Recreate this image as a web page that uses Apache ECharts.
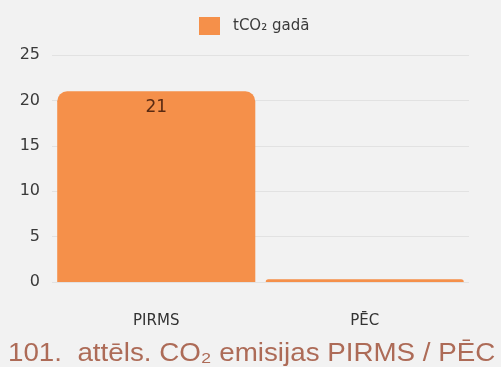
<!DOCTYPE html>
<html><head><meta charset="utf-8">
<script src="https://cdn.jsdelivr.net/npm/echarts@6/dist/echarts.min.js"></script>
<style>html,body{margin:0;padding:0;background:#f2f2f2;}#c{width:501px;height:367px;}</style>
</head><body><div id="c"></div>
<script>
const categories = ['PIRMS', 'PĒC'];
const seriesName = 'tCO\u2082 gadā';
const values = [21, 0.3];
const labelsShown = [true, false];
const yTicks = [0, 5, 10, 15, 20, 25];
const captionText = '101.  attēls. CO\u2082 emisijas PIRMS / PĒC';

const FONT = '"DejaVu Sans", sans-serif';
const chart = echarts.init(document.getElementById('c'));
chart.setOption({
  backgroundColor: '#f2f2f2',
  animation: false,
  legend: {
    top: 12, left: 194, icon: 'rect',
    itemWidth: 21, itemHeight: 18, itemGap: 8,
    textStyle: { fontFamily: FONT, fontSize: 15, color: '#3a3a3a', padding: [0, 0, 0, 8] },
    data: [seriesName]
  },
  grid: { left: 52, right: 32, top: 55, bottom: 85 },
  xAxis: {
    type: 'category', data: categories,
    axisLine: { show: false }, axisTick: { show: false },
    axisLabel: { margin: 32, fontFamily: FONT, fontSize: 15, color: '#333' }
  },
  yAxis: {
    type: 'value', min: yTicks[0], max: yTicks[yTicks.length - 1], interval: 5,
    axisLine: { show: false }, axisTick: { show: false },
    splitLine: { lineStyle: { color: '#e2e2e2', width: 1 } },
    axisLabel: { margin: 12, fontFamily: FONT, fontSize: 16, color: '#3a3a3a' }
  },
  series: [{
    name: seriesName, type: 'bar', barWidth: '95%',
    itemStyle: { color: '#f5904a', borderRadius: [10, 10, 0, 0] },
    data: values.map((v, i) => ({ value: v, label: { show: labelsShown[i] } })),
    label: { position: 'insideTop', distance: 8, fontFamily: FONT, fontSize: 17, color: '#5a2a12' }
  }],
  graphic: [{
    type: 'text', x: 8, y: 342, scaleX: 1.11, originX: 0, originY: 0,
    style: { text: captionText, x: 0, y: 0, verticalAlign: 'top',
      font: '25px "Liberation Sans", Arial, sans-serif', fill: '#ad6b57' }
  }]
});
</script></body></html>
